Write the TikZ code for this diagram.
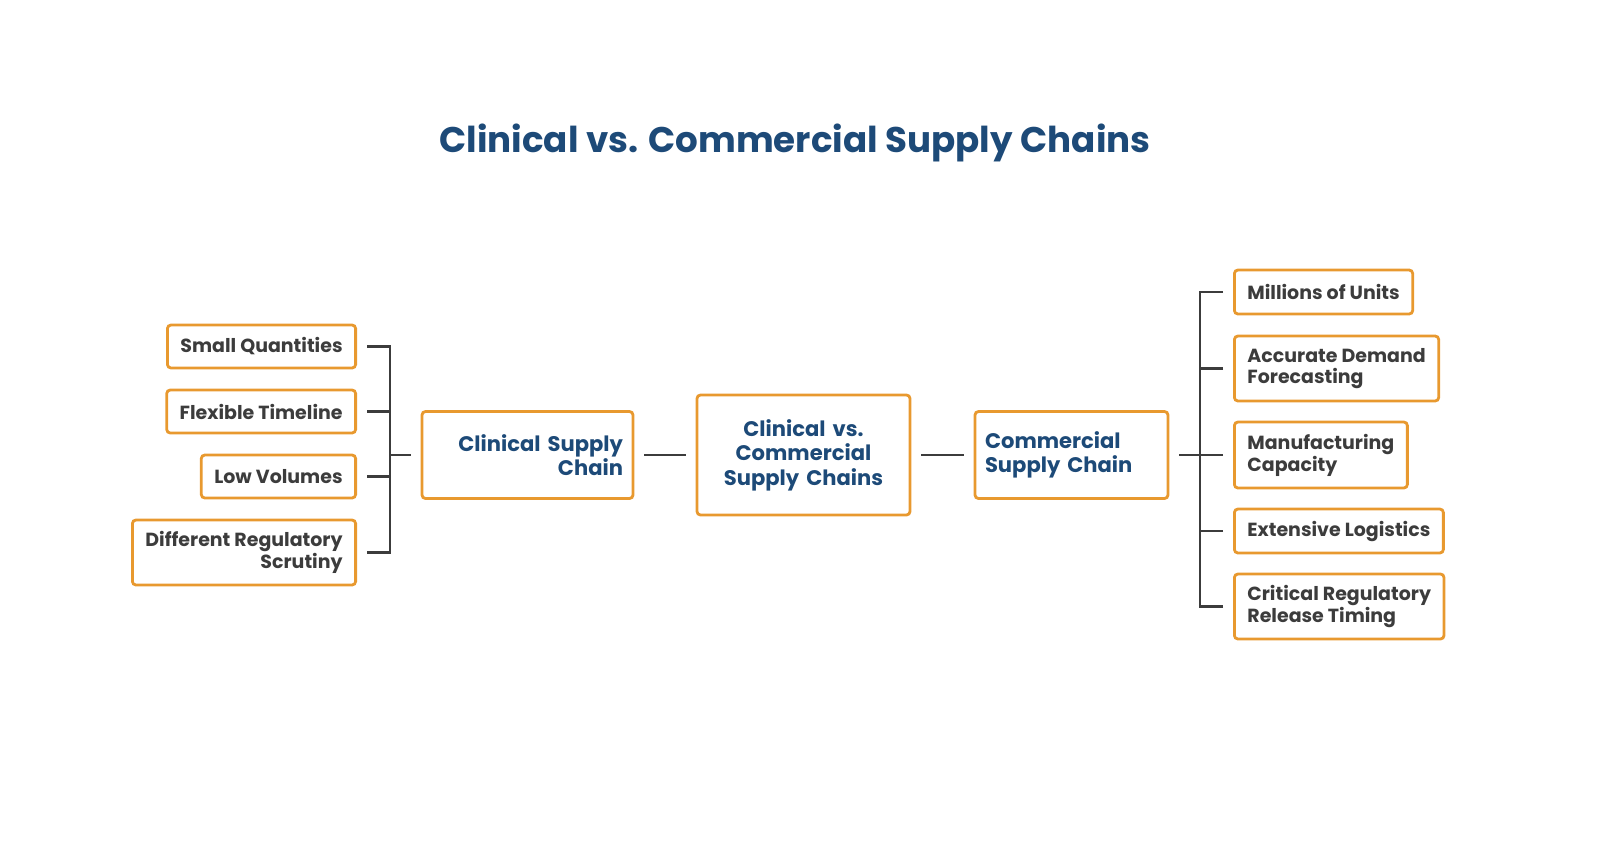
\documentclass[tikz,border=0pt]{standalone}
\usepackage{fontspec}
\setmainfont{Poppins}
\usetikzlibrary{positioning,calc}
\definecolor{boxorange}{HTML}{E8992F}
\definecolor{titleblue}{HTML}{1D4A78}
\definecolor{itemgray}{HTML}{3C3C3C}
\newdimen\px \px=0.02cm
\tikzset{
  item/.style={draw=boxorange, line width=1.6pt, rounded corners=2pt, font=\fontsize{10.8}{11.5}\selectfont\bfseries,
    text=itemgray, inner xsep=13\px, inner ysep=0pt},
  main/.style={draw=boxorange, line width=1.6pt, rounded corners=2pt, font=\fontsize{12}{14}\selectfont\bfseries,
    text=titleblue, inner xsep=10\px, inner ysep=0pt},
  link/.style={draw=itemgray, line width=1.3pt}
}
\begin{document}
\begin{tikzpicture}[x=0.02cm,y=-0.02cm]
  \useasboundingbox (0,0) rectangle (1600,840);
  % title
  \node[font=\fontsize{20.3}{22}\selectfont\bfseries, text=titleblue] (title) at (795,143) {Clinical vs. Commercial Supply Chains};

  % centre and the two branches
  \node[main, text width=193\px, align=center, minimum height=120\px] (centre) at (803.5,455) {Clinical vs.\\Commercial\\Supply Chains};
  \node[main, text width=191\px, align=right, minimum height=87\px] (clin) at (527.5,455) {Clinical Supply\\Chain};
  \node[main, text width=173\px, align=left, minimum height=87\px] (comm) at (1071.5,455) {Commercial\\Supply Chain};

  % left items
  \node[item, anchor=east, minimum height=43\px] (l1) at (357,346.5) {Small Quantities};
  \node[item, anchor=east, minimum height=43\px] (l2) at (357,411.5) {Flexible Timeline};
  \node[item, anchor=east, minimum height=43\px] (l3) at (357,476.5) {Low Volumes};
  \node[item, anchor=east, minimum height=65\px, align=right] (l4) at (357,552.5) {Different Regulatory\\Scrutiny};

  % right items
  \node[item, anchor=west, minimum height=44\px] (r1) at (1233,292) {Millions of Units};
  \node[item, anchor=west, minimum height=65\px, align=left] (r2) at (1233,368.5) {Accurate Demand\\Forecasting};
  \node[item, anchor=west, minimum height=66\px, align=left] (r3) at (1233,455) {Manufacturing\\Capacity};
  \node[item, anchor=west, minimum height=44\px] (r4) at (1233,531) {Extensive Logistics};
  \node[item, anchor=west, minimum height=65\px, align=left] (r5) at (1233,606.5) {Critical Regulatory\\Release Timing};

  % joints
  \coordinate (jl) at (390,455);
  \coordinate (jr) at (1200,455);

  % connectors
  \foreach \n in {l1,l2,l3,l4}
    \draw[link] ([xshift=10\px]\n.east) -| (jl);
  \draw[link] (jl) -- ([xshift=-10\px]clin.west);
  \foreach \n in {r1,r2,r3,r4,r5}
    \draw[link] ([xshift=-10\px]\n.west) -| (jr);
  \draw[link] (jr) -- ([xshift=10\px]comm.east);
  \draw[link] ([xshift=10\px]clin.east) -- ([xshift=-10\px]centre.west);
  \draw[link] ([xshift=10\px]centre.east) -- ([xshift=-10\px]comm.west);
\end{tikzpicture}
\end{document}
